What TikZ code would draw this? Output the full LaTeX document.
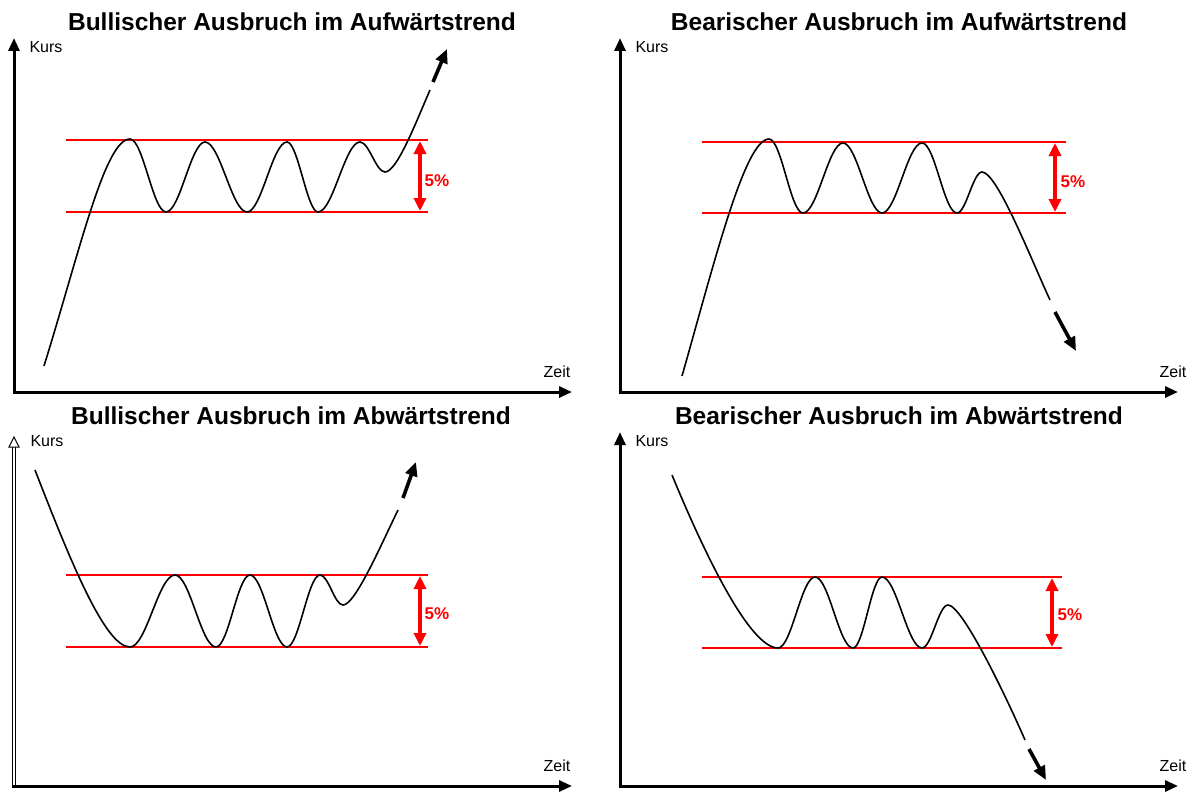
\documentclass[tikz,border=0pt]{standalone}
\usepackage{fontspec}
\setmainfont{Liberation Sans}
\usetikzlibrary{arrows.meta}
\begin{document}
\begin{tikzpicture}[x=1pt,y=1pt,
  axis/.style={line width=3pt,-{Triangle[length=13pt,width=11pt]}},
  band/.style={red,line width=1.3pt},
  pct/.style={red,line width=3.4pt,{Triangle[length=13pt,width=12pt]}-{Triangle[length=13pt,width=12pt]}},
  pctlbl/.style={red,font=\fontsize{17}{19}\selectfont\bfseries,inner sep=0pt},
  course/.style={line width=1.6pt},
  trendarrow/.style={line width=3.6pt,-{Triangle[length=14pt,width=12pt]}},
  ttl/.style={font=\fontsize{24.5}{28}\selectfont\bfseries,inner sep=0pt},
  lbl/.style={font=\fontsize{16}{18}\selectfont,inner sep=0pt}]
\useasboundingbox (0,-792) rectangle (1191,0);
\fill[white] (0,-792) rectangle (1191,0);

% ---------- Panel 1 ----------
\node[ttl] (t1) at (292,-22) {Bullischer Ausbruch im Aufwärtstrend};
\coordinate (o1) at (14,-392);
\coordinate (y1) at (14,-38);
\coordinate (x1) at (572,-392);
\draw[axis] ([xshift=-1.5pt]o1) -- (x1);
\draw[axis] ([yshift=-1.5pt]o1) -- (y1);
\node[lbl] (k1) at (46,-47) {Kurs};
\node[lbl] (z1) at (557,-372) {Zeit};
\coordinate (a1l) at (66,-140); \coordinate (a1r) at (428,-140);
\coordinate (b1l) at (66,-212); \coordinate (b1r) at (428,-212);
\draw[band] (a1l) -- (a1r);
\draw[band] (b1l) -- (b1r);
\coordinate (p1t) at (420,-141); \coordinate (p1b) at (420,-211);
\draw[pct] (p1t) -- (p1b);
\node[pctlbl] (q1) at (437,-181) {5\%};
\draw[course] (44,-366) .. controls (80,-250) and (105,-139) .. (130,-139)
  .. controls +(13,0) and +(-13,0) .. (166,-212)
  .. controls +(14,0) and +(-14,0) .. (205,-142)
  .. controls +(15,0) and +(-15,0) .. (247,-212)
  .. controls +(14.5,0) and +(-14.5,0) .. (287,-142)
  .. controls +(11,0) and +(-11,0) .. (318,-212)
  .. controls +(15,0) and +(-15,0) .. (360,-142)
  .. controls +(9,0) and +(-9,0) .. (385,-172)
  .. controls +(12,0) and +(-14,-32) .. (430,-90);
\coordinate (e1s) at (433,-82); \coordinate (e1e) at (447,-49);
\draw[trendarrow] (e1s) -- (e1e);

% ---------- Panel 2 ----------
\node[ttl] (t2) at (899,-22) {Bearischer Ausbruch im Aufwärtstrend};
\coordinate (o2) at (620,-392);
\coordinate (y2) at (620,-38);
\coordinate (x2) at (1178,-392);
\draw[axis] ([xshift=-1.5pt]o2) -- (x2);
\draw[axis] ([yshift=-1.5pt]o2) -- (y2);
\node[lbl] (k2) at (652,-47) {Kurs};
\node[lbl] (z2) at (1173,-372) {Zeit};
\coordinate (a2l) at (702,-142); \coordinate (a2r) at (1066,-142);
\coordinate (b2l) at (702,-213); \coordinate (b2r) at (1066,-213);
\draw[band] (a2l) -- (a2r);
\draw[band] (b2l) -- (b2r);
\coordinate (p2t) at (1055,-143); \coordinate (p2b) at (1055,-212);
\draw[pct] (p2t) -- (p2b);
\node[pctlbl] (q2) at (1073,-182) {5\%};
\draw[course] (682,-376) .. controls (715,-260) and (745,-139) .. (769,-139)
  .. controls +(12.5,0) and +(-12.5,0) .. (803,-213)
  .. controls +(14.5,0) and +(-14.5,0) .. (843,-143)
  .. controls +(14,0) and +(-14,0) .. (882,-213)
  .. controls +(14.5,0) and +(-14.5,0) .. (922,-143)
  .. controls +(13,0) and +(-13,0) .. (957,-213)
  .. controls +(9,0) and +(-9,0) .. (982,-172)
  .. controls +(15,0) and +(-19,41) .. (1050,-300);
\coordinate (e2s) at (1055,-312); \coordinate (e2e) at (1076,-351);
\draw[trendarrow] (e2s) -- (e2e);

% ---------- Panel 3 ----------
\node[ttl] (t3) at (291,-416) {Bullischer Ausbruch im Abwärtstrend};
\coordinate (o3) at (14,-786);
\coordinate (y3) at (14,-447);
\coordinate (y3t) at (14,-437);
\coordinate (x3) at (572,-786);
\draw[line width=1pt,double,double distance=1.6pt] (o3) -- (y3);
\draw[line width=1pt,fill=white,line join=miter] (y3t) -- ++(-5,-10) -- ++(10,0) -- cycle;
\draw[axis] ([xshift=-1.8pt]o3) -- (x3);
\node[lbl] (k3) at (47,-441) {Kurs};
\node[lbl] (z3) at (557,-766) {Zeit};
\coordinate (a3l) at (66,-575); \coordinate (a3r) at (428,-575);
\coordinate (b3l) at (66,-647); \coordinate (b3r) at (428,-647);
\draw[band] (a3l) -- (a3r);
\draw[band] (b3l) -- (b3r);
\coordinate (p3t) at (420,-576); \coordinate (p3b) at (420,-646);
\draw[pct] (p3t) -- (p3b);
\node[pctlbl] (q3) at (437,-614) {5\%};
\draw[course] (35,-470) .. controls (70,-560) and (105,-647) .. (130,-647)
  .. controls +(16.5,0) and +(-16.5,0) .. (175,-575)
  .. controls +(15,0) and +(-15,0) .. (216,-647)
  .. controls +(12.5,0) and +(-12.5,0) .. (250,-575)
  .. controls +(13.5,0) and +(-13.5,0) .. (287,-647)
  .. controls +(12,0) and +(-12,0) .. (320,-575)
  .. controls +(8.5,0) and +(-8.5,0) .. (343,-605)
  .. controls +(12,0) and +(-17.5,-36) .. (398,-510);
\coordinate (e3s) at (403,-498); \coordinate (e3e) at (416,-462);
\draw[trendarrow] (e3s) -- (e3e);

% ---------- Panel 4 ----------
\node[ttl] (t4) at (899,-416) {Bearischer Ausbruch im Abwärtstrend};
\coordinate (o4) at (620,-786);
\coordinate (y4) at (620,-432);
\coordinate (x4) at (1178,-786);
\draw[axis] ([xshift=-1.5pt]o4) -- (x4);
\draw[axis] ([yshift=-1.5pt]o4) -- (y4);
\node[lbl] (k4) at (652,-441) {Kurs};
\node[lbl] (z4) at (1173,-766) {Zeit};
\coordinate (a4l) at (702,-577); \coordinate (a4r) at (1062,-577);
\coordinate (b4l) at (702,-648); \coordinate (b4r) at (1062,-648);
\draw[band] (a4l) -- (a4r);
\draw[band] (b4l) -- (b4r);
\coordinate (p4t) at (1052,-578); \coordinate (p4b) at (1052,-647);
\draw[pct] (p4t) -- (p4b);
\node[pctlbl] (q4) at (1070,-615) {5\%};
\draw[course] (672,-475) .. controls (705,-555) and (750,-648) .. (778,-648)
  .. controls +(13.5,0) and +(-13.5,0) .. (815,-577)
  .. controls +(14,0) and +(-14,0) .. (853,-648)
  .. controls +(10.5,0) and +(-10.5,0) .. (882,-577)
  .. controls +(14.5,0) and +(-14.5,0) .. (922,-648)
  .. controls +(9.5,0) and +(-9.5,0) .. (948,-605)
  .. controls +(14,0) and +(-20,46) .. (1025,-740);
\coordinate (e4s) at (1029,-749); \coordinate (e4e) at (1046,-780);
\draw[trendarrow] (e4s) -- (e4e);
\end{tikzpicture}
\end{document}
